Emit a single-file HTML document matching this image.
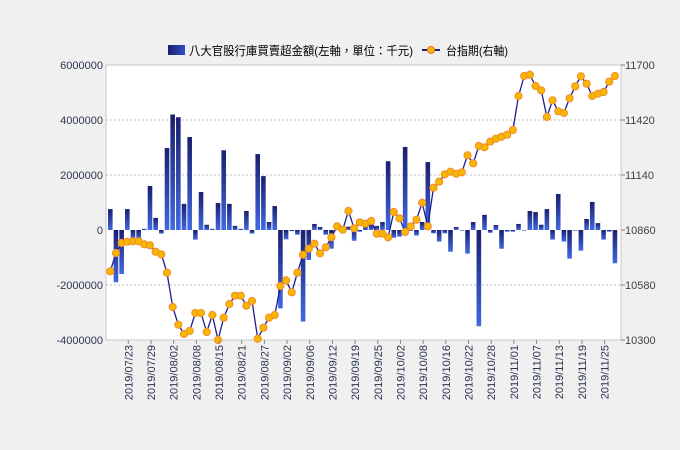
<!DOCTYPE html>
<html><head><meta charset="utf-8"><style>
html,body{margin:0;padding:0;background:#f0f0f0;}
svg{display:block;font-family:"Liberation Sans","Noto Sans CJK TC",sans-serif;}
</style></head><body>
<svg id="c" width="680" height="450" xmlns="http://www.w3.org/2000/svg">
<defs>
<linearGradient id="g" x1="0" y1="0" x2="0" y2="1"><stop offset="0" stop-color="#1a1f6e"/><stop offset="1" stop-color="#4169e1"/></linearGradient>
<linearGradient id="gl" x1="0" y1="0" x2="1" y2="0"><stop offset="0" stop-color="#1a1f6e"/><stop offset="1" stop-color="#3050c8"/></linearGradient>
</defs>
<rect x="106" y="65" width="515" height="275" fill="#fff" stroke="#c8c8c8"/>
<g id="grid" stroke="#c0c0c0" stroke-dasharray="2,2"></g>
<g id="bars"></g>
<g id="line"></g>
<g id="lab" font-size="11"></g>
<rect x="168" y="45" width="17" height="10" fill="url(#gl)"/>
<text x="189" y="55" font-size="12" fill="#000" textLength="224" lengthAdjust="spacingAndGlyphs">八大官股行庫買賣超金額(左軸，單位：千元)</text>
<line x1="422" y1="50" x2="440" y2="50" stroke="#1a1f8e" stroke-width="2"/>
<circle cx="431" cy="50" r="3.5" fill="#f5b800" stroke="#f07020"/>
<text x="446" y="55" font-size="12" fill="#000" textLength="62" lengthAdjust="spacingAndGlyphs">台指期(右軸)</text>
</svg>
<script>
const NS="http://www.w3.org/2000/svg";
function el(p,t,a,txt){const e=document.createElementNS(NS,t);for(const k in a)e.setAttribute(k,a[k]);if(txt!==undefined)e.textContent=txt;document.getElementById(p).appendChild(e);return e;}
const bars=[760,-1900,-1600,760,-360,-360,40,1600,440,-130,2980,4200,4100,950,3380,-350,1380,190,40,980,2900,950,150,40,690,-130,2760,1960,290,870,-2850,-340,-40,-170,-3330,-1090,220,110,-170,-680,130,20,120,-390,-60,120,220,150,290,2500,-280,-240,3020,-30,-200,290,2470,-120,-420,-120,-790,110,-20,-860,290,-3500,550,-100,180,-680,-60,-60,220,-20,690,650,190,760,-350,1310,-420,-1040,-20,-750,400,1020,250,-350,-60,-1210];
const ly=[271.3,253,243,241.7,241.3,241.3,244.3,245.3,251.7,254.3,272.7,307,324.7,334,331,313,313,332,315,340,317.7,304,295.7,295.7,305.7,301,338.7,327.7,317.7,315,286,280.3,292.3,272.7,254.7,248.7,243.7,253.3,247.3,237.3,226.3,229.7,211,228.3,222.3,223.7,221,233.7,233.7,237.3,212,218.3,232,226.3,219.7,202.7,226.3,187.7,181.7,174.3,171.7,173.7,172.3,155.3,163.3,146,147.3,141.7,138.7,136.7,134.7,130,96,76,74.7,86,90.3,117,100.3,111.3,113,98.3,86.3,76.3,83.7,96,93.7,92,81.7,76];
const X=i=>110.3+i*5.67, Z=230, S=55/2000;
[120,175,285].forEach(y=>el("grid","line",{x1:106,x2:621,y1:y,y2:y}));
bars.forEach((v,i)=>{const h=Math.abs(v)*S;if(h<0.5)return;el("bars","rect",{x:X(i)-2.3,width:4.6,y:v>0?Z-h:Z,height:h,fill:"url(#g)"});});
el("line","polyline",{points:ly.map((y,i)=>X(i)+","+y).join(" "),fill:"none",stroke:"#1a1f8e","stroke-width":1.3});
ly.forEach((y,i)=>el("line","circle",{cx:X(i),cy:y,r:3.6,fill:"#f5b800",stroke:"#f58a30","stroke-width":1}));
const L=[["6000000",65],["4000000",120],["2000000",175],["0",230],["-2000000",285],["-4000000",340]];
L.forEach(a=>el("lab","text",{x:103,y:a[1]+4,"text-anchor":"end",fill:"#2a3550"},a[0]));
const R=[["11700",65],["11420",120],["11140",175],["10860",230],["10580",285],["10300",340]];
R.forEach(a=>{el("lab","text",{x:625,y:a[1]+4,fill:"#404040"},a[0]);el("lab","line",{x1:621,x2:625,y1:a[1],y2:a[1],stroke:"#b07040"});});
const D=["07/23","07/29","08/02","08/08","08/15","08/21","08/27","09/02","09/06","09/12","09/19","09/25","10/02","10/08","10/16","10/22","10/28","11/01","11/07","11/13","11/19","11/25"];
D.forEach((d,k)=>{const x=X(3+4*k)+1;el("lab","line",{x1:x,x2:x,y1:340,y2:344,stroke:"#888"});el("lab","text",{x:0,y:0,"text-anchor":"end",fill:"#2a3550",transform:`translate(${x+4},345) rotate(-90)`},"2019/"+d);});
</script>
</body></html>
